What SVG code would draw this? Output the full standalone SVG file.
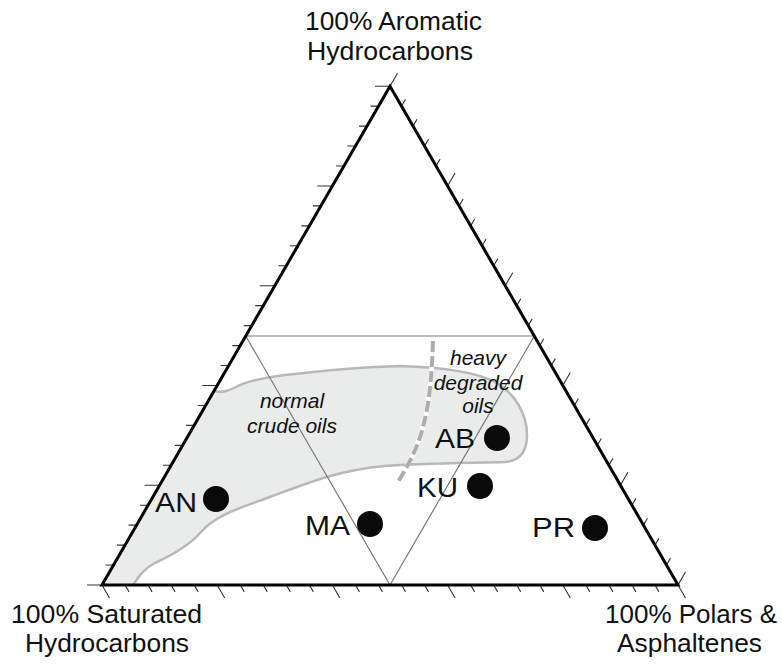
<svg xmlns="http://www.w3.org/2000/svg" width="782" height="668" viewBox="0 0 782 668">
<style>
.lbl{font-family:"Liberation Sans",Arial,sans-serif;font-size:25px;fill:#111}
.pt{font-family:"Liberation Sans",Arial,sans-serif;font-size:28px;fill:#111}
.it{font-family:"Liberation Sans",Arial,sans-serif;font-size:21px;font-style:italic;fill:#111;text-anchor:middle}
.tick{stroke:#333;stroke-width:1.1;fill:none}
.grid{stroke:#7a7a7a;stroke-width:1.2;fill:none}
.dot{fill:#0a0a0a}
</style>
<rect width="782" height="668" fill="#fff"/>
<g id="region">
<path d="M214,391 C222,393 228,391 236,387 C246,381 262,378 285,375 C320,371 360,367 400,366 C440,367 475,371 497,383 C515,394 527,414 527,435 C527,452 520,461 505,462 C470,463 420,463 385,466 C340,470 310,482 270,497 C240,508 215,515 200,533 C188,547 170,556 155,563 C143,569 138,578 133,585 L102,585 Z" fill="#eaebeb"/>
<path d="M214,391 C222,393 228,391 236,387 C246,381 262,378 285,375 C320,371 360,367 400,366 C440,367 475,371 497,383 C515,394 527,414 527,435 C527,452 520,461 505,462 C470,463 420,463 385,466 C340,470 310,482 270,497 C240,508 215,515 200,533 C188,547 170,556 155,563 C143,569 138,578 133,585" fill="none" stroke="#b8b8b8" stroke-width="2.5"/>
<path d="M433,341 C432,370 430,400 424,423 C419,445 410,462 398,482" fill="none" stroke="#fff" stroke-width="4.5"/>
<path d="M433,341 C432,370 430,400 424,423 C419,445 410,462 398,482" fill="none" stroke="#adadad" stroke-width="4" stroke-dasharray="11 4"/>
</g>
<g id="connectors">
<path class="grid" d="M245.7,336 L534.3,336 M245.7,336 L390,585 L534.3,336"/>
</g>
<g id="ticks">
<path class="tick" d="M102,585H87 M113.52,565.05H105.52 M125.04,545.1H117.04 M136.56,525.14H128.56 M148.08,505.19H140.08 M159.6,485.24H144.6 M171.12,465.29H163.12 M182.64,445.34H174.64 M194.16,425.38H186.16 M205.68,405.43H197.68 M217.2,385.48H202.2 M228.72,365.53H220.72 M240.24,345.58H232.24 M251.76,325.62H243.76 M263.28,305.67H255.28 M274.8,285.72H259.8 M286.32,265.77H278.32 M297.84,245.82H289.84 M309.36,225.86H301.36 M320.88,205.91H312.88 M332.4,185.96H317.4 M343.92,166.01H335.92 M355.44,146.06H347.44 M366.96,126.1H358.96 M378.48,106.15H370.48 M390,86.2H375"/>
<path class="tick" d="M102,585l7.5,13 M125.04,585l4,6.9 M148.08,585l4,6.9 M171.12,585l4,6.9 M194.16,585l4,6.9 M217.2,585l7.5,13 M240.24,585l4,6.9 M263.28,585l4,6.9 M286.32,585l4,6.9 M309.36,585l4,6.9 M332.4,585l7.5,13 M355.44,585l4,6.9 M378.48,585l4,6.9 M401.52,585l4,6.9 M424.56,585l4,6.9 M447.6,585l7.5,13 M470.64,585l4,6.9 M493.68,585l4,6.9 M516.72,585l4,6.9 M539.76,585l4,6.9 M562.8,585l7.5,13 M585.84,585l4,6.9 M608.88,585l4,6.9 M631.92,585l4,6.9 M654.96,585l4,6.9 M678,585l7.5,13"/>
<path class="tick" d="M678,585l7.5,-13 M666.48,565.05l4,-6.9 M654.96,545.1l4,-6.9 M643.44,525.14l4,-6.9 M631.92,505.19l4,-6.9 M620.4,485.24l7.5,-13 M608.88,465.29l4,-6.9 M597.36,445.34l4,-6.9 M585.84,425.38l4,-6.9 M574.32,405.43l4,-6.9 M562.8,385.48l7.5,-13 M551.28,365.53l4,-6.9 M539.76,345.58l4,-6.9 M528.24,325.62l4,-6.9 M516.72,305.67l4,-6.9 M505.2,285.72l7.5,-13 M493.68,265.77l4,-6.9 M482.16,245.82l4,-6.9 M470.64,225.86l4,-6.9 M459.12,205.91l4,-6.9 M447.6,185.96l7.5,-13 M436.08,166.01l4,-6.9 M424.56,146.06l4,-6.9 M413.04,126.1l4,-6.9 M401.52,106.15l4,-6.9 M390,86.2l7.5,-13"/>
</g>
<g id="triangle">
<path d="M102,585 L678,585 L390,86.2 Z" fill="none" stroke="#000" stroke-width="3" stroke-linejoin="miter"/>
</g>
<g id="axis-labels">
<text class="lbl" x="305" y="30" textLength="177" lengthAdjust="spacingAndGlyphs">100% Aromatic</text>
<text class="lbl" x="307" y="60" textLength="166" lengthAdjust="spacingAndGlyphs">Hydrocarbons</text>
<text class="lbl" x="11" y="623" textLength="191" lengthAdjust="spacingAndGlyphs">100% Saturated</text>
<text class="lbl" x="25" y="652" textLength="164" lengthAdjust="spacingAndGlyphs">Hydrocarbons</text>
<text class="lbl" x="605" y="623" textLength="172" lengthAdjust="spacingAndGlyphs">100% Polars &amp;</text>
<text class="lbl" x="617" y="652" textLength="145" lengthAdjust="spacingAndGlyphs">Asphaltenes</text>
</g>
<g id="field-labels">
<text class="it" x="292" y="408">normal</text>
<text class="it" x="292" y="433">crude oils</text>
<text class="it" x="478" y="365">heavy</text>
<text class="it" x="478" y="390">degraded</text>
<text class="it" x="478" y="413">oils</text>
</g>
<g id="AN"><circle class="dot" cx="216" cy="499" r="13"/><text class="pt" x="155" y="512" textLength="42" lengthAdjust="spacingAndGlyphs">AN</text></g>
<g id="MA"><circle class="dot" cx="370" cy="524" r="13"/><text class="pt" x="305" y="535" textLength="45" lengthAdjust="spacingAndGlyphs">MA</text></g>
<g id="AB"><circle class="dot" cx="497" cy="438" r="13"/><text class="pt" x="435" y="448" textLength="40" lengthAdjust="spacingAndGlyphs">AB</text></g>
<g id="KU"><circle class="dot" cx="480" cy="486" r="13"/><text class="pt" x="417" y="497" textLength="41" lengthAdjust="spacingAndGlyphs">KU</text></g>
<g id="PR"><circle class="dot" cx="595" cy="528" r="13"/><text class="pt" x="532" y="537" textLength="43" lengthAdjust="spacingAndGlyphs">PR</text></g>
</svg>
